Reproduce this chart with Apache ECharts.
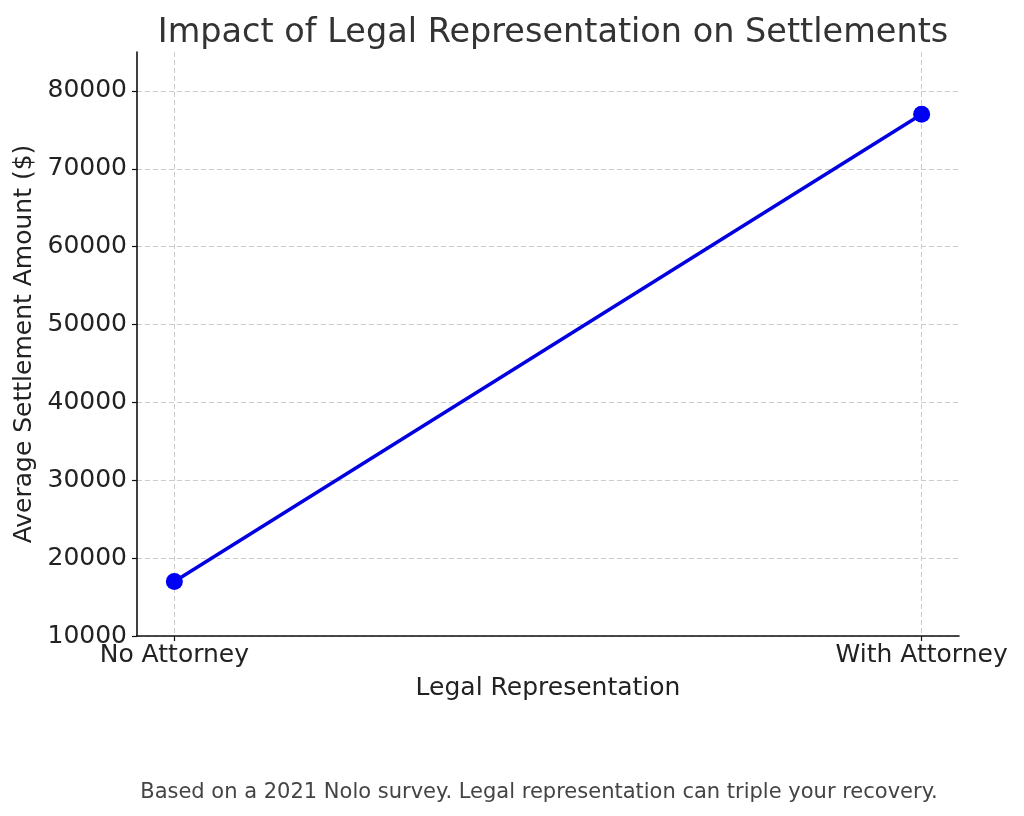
<!DOCTYPE html>
<html>
<head>
<meta charset="utf-8">
<script src="https://cdn.jsdelivr.net/npm/echarts@6/dist/echarts.min.js"></script>
<style>
html,body{margin:0;padding:0;background:#fff;}
#chart{width:1024px;height:816px;}
</style>
</head>
<body>
<div id="chart"></div>
<script>
const categories = ["No Attorney", "With Attorney"];
const settlementValues = [17000, 77000];
const yTicks = [10000, 20000, 30000, 40000, 50000, 60000, 70000, 80000];
const titleText = "Impact of Legal Representation on Settlements";
const captionText = "Based on a 2021 Nolo survey. Legal representation can triple your recovery.";

const font = "DejaVu Sans";
const chart = echarts.init(document.getElementById('chart'));
const seriesData = categories.map((c, i) => [i, settlementValues[i]]);
const xTickVals = categories.map((c, i) => i);

chart.setOption({
  backgroundColor: '#fff',
  animation: false,
  title: [{
    text: titleText,
    left: 548, top: 11, textAlign: 'center',
    textStyle: {fontFamily: font, fontSize: 33.5, fontWeight: 'normal', color: '#333'}
  }, {
    text: captionText,
    left: 534, top: 777, textAlign: 'center',
    textStyle: {fontFamily: font, fontSize: 21, fontWeight: 'normal', color: '#444'}
  }],
  grid: {left: 137, right: 65, top: 52, bottom: 180, containLabel: false},
  xAxis: {
    type: 'value', min: -0.05, max: 1.05,
    name: 'Legal Representation', nameLocation: 'middle', nameGap: 40,
    nameTextStyle: {fontFamily: font, fontSize: 25, color: '#222'},
    axisLine: {show: true, onZero: false, lineStyle: {color: '#111', width: 1.6}},
    axisTick: {show: true, customValues: xTickVals, length: 5, lineStyle: {color: '#111', width: 1.2}},
    axisLabel: {customValues: xTickVals, margin: 7, fontFamily: font, fontSize: 25, color: '#222',
      formatter: v => categories[Math.round(v)]},
    splitLine: {show: true, lineStyle: {color: '#ccc', type: [5, 3], width: 1}}
  },
  yAxis: {
    type: 'value', min: 10000, max: 85000,
    name: 'Average Settlement Amount ($)', nameLocation: 'middle', nameGap: 98,
    nameTextStyle: {fontFamily: font, fontSize: 25, color: '#222'},
    axisLine: {show: true, onZero: false, lineStyle: {color: '#111', width: 1.6}},
    axisTick: {show: true, customValues: yTicks, length: 5, lineStyle: {color: '#111', width: 1.2}},
    axisLabel: {customValues: yTicks, margin: 10, fontFamily: font, fontSize: 25, color: '#222',
      padding: [4, 0, 0, 0], formatter: v => String(v)},
    splitLine: {show: true, lineStyle: {color: '#ccc', type: [5, 3], width: 1}}
  },
  series: [{
    type: 'line',
    data: seriesData,
    symbol: 'circle', symbolSize: 17,
    lineStyle: {color: '#0000e0', width: 3.5},
    itemStyle: {color: '#0000f5'}
  }]
});
</script>
</body>
</html>
